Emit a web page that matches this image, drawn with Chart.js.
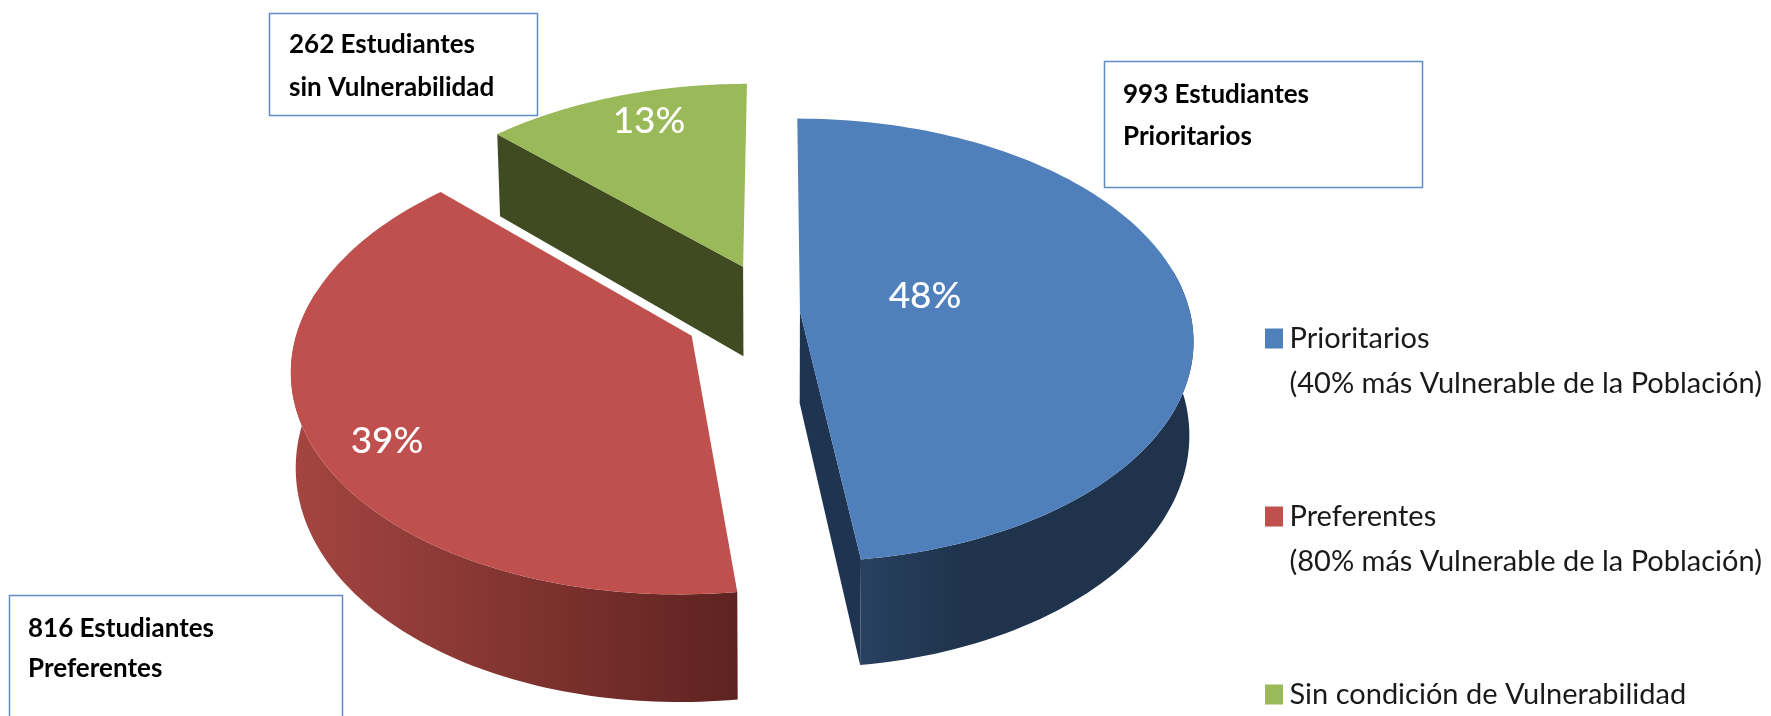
<!DOCTYPE html>
<html lang="es">
<head>
<meta charset="utf-8">
<title>Estudiantes por condición de vulnerabilidad</title>
<script src="https://cdn.jsdelivr.net/npm/chart.js@4"></script>
<style>
    html, body { margin: 0; padding: 0; background: #fff; }
    #chart-wrap { width: 1771px; height: 716px; overflow: hidden; }
</style>
</head>
<body>
<div id="chart-wrap"><canvas id="vulnerabilidadChart" width="1771" height="716"></canvas></div>
<script>
const categories = [
    ['Prioritarios', '(40% más Vulnerable de la Población)'],
    ['Preferentes', '(80% más Vulnerable de la Población)'],
    'Sin condición de Vulnerabilidad',
];
const students = [993, 816, 262];
const percentLabels = ['48%', '39%', '13%'];
const boxLines = [
    ['993 Estudiantes', 'Prioritarios'],
    ['816 Estudiantes', 'Preferentes'],
    ['262 Estudiantes', 'sin Vulnerabilidad'],
];

const FONT = 'Lato, Carlito, "Open Sans", sans-serif';
const topColors = ['#4f80bc', '#bf504d', '#9ab958'];
const explode = [23, 94, 90];
const drawOrder = [2, 0, 1];
const cutFace = ['end', null, 'start'];
const cutColors = ['#1e3450', null, '#404b22'];
const rimStops = [
    [[0, '#28415f'], [0.3, '#1f334d'], [1, '#1f334d']],
    [[0, '#a54541'], [1, '#5e2320']],
    [[0, '#404b22'], [1, '#404b22']],
];
const boxRects = [
    { x: 1104.5, y: 61.5, w: 318, h: 126, textX: 1123, lineY: [95, 137] },
    { x: 9.5, y: 595.5, w: 333, h: 140, textX: 28, lineY: [629, 669] },
    { x: 269.5, y: 13.5, w: 268, h: 102, textX: 289, lineY: [45, 88] },
];
const percentPos = [{ x: 925, y: 296 }, { x: 387, y: 441 }, { x: 649, y: 121 }];
const legendPos = { x: 1273, y: 324 };

// tilted disc: perspective about the pie centre, z runs from top face (0) to underside (1)
const view = { squash: 0.559, tilt: 0.131, depth: 92, taper: 0.01 };

function project(el, u, v, z) {
    const R = el.outerRadius;
    const f = 1 / (1 + view.tilt * v);
    return {
        x: el.x + R * u * f * (1 - view.taper * z),
        y: el.y - R * view.squash * v * f + view.depth * z * f,
    };
}

function wedgeGeometry(el) {
    const mid = (el.startAngle + el.endAngle) / 2;
    const off = el.options.offset / el.outerRadius;
    const apexU = off * Math.cos(mid);
    const apexV = -off * Math.sin(mid);
    return {
        apex: (z) => project(el, apexU, apexV, z),
        rim: (a, z) => project(el, apexU + Math.cos(a), apexV - Math.sin(a), z),
    };
}

function tracePath(ctx, pts) {
    ctx.beginPath();
    pts.forEach((p, i) => { if (i === 0) ctx.moveTo(p.x, p.y); else ctx.lineTo(p.x, p.y); });
    ctx.closePath();
}

function drawWedge(ctx, el, i) {
    const geo = wedgeGeometry(el);
    const steps = 120;
    const angles = [];
    for (let s = 0; s <= steps; s++) angles.push(el.startAngle + (el.endAngle - el.startAngle) * s / steps);

    if (cutFace[i]) {
        const a = cutFace[i] === 'end' ? el.endAngle : el.startAngle;
        tracePath(ctx, [geo.apex(0), geo.rim(a, 0), geo.rim(a, 1), geo.apex(1)]);
        ctx.fillStyle = cutColors[i];
        ctx.fill();
    }

    // only the front of the rim shows, the rest sits under the top face
    const front = angles.filter((a) => Math.sin(a) >= -0.2);
    if (front.length > 1) {
        const pts = front.map((a) => geo.rim(a, 0)).concat(front.slice().reverse().map((a) => geo.rim(a, 1)));
        const xs = pts.map((p) => p.x);
        const grad = ctx.createLinearGradient(Math.min(...xs), 0, Math.max(...xs), 0);
        rimStops[i].forEach(([stop, color]) => grad.addColorStop(stop, color));
        tracePath(ctx, pts);
        ctx.fillStyle = grad;
        ctx.fill();
    }

    tracePath(ctx, [geo.apex(0)].concat(angles.map((a) => geo.rim(a, 0))));
    ctx.fillStyle = topColors[i];
    ctx.fill();
}

const pie3d = {
    id: 'pie3d',
    afterLayout(chart) {
        // legend is placed by hand, its padding only sets the gap between entries
        const pad = chart.options.plugins.legend.labels.padding;
        chart.legend.left = legendPos.x - pad;
        chart.legend.top = legendPos.y - pad;
        chart.legend.right = chart.width;
        chart.legend.bottom = chart.height + 2 * pad;
    },
    beforeDatasetDraw(chart, args) {
        const ctx = chart.ctx;
        const arcs = args.meta.data;
        ctx.save();
        drawOrder.forEach((i) => drawWedge(ctx, arcs[i], i));
        ctx.restore();
        return false;
    },
    afterDraw(chart) {
        const ctx = chart.ctx;
        ctx.save();
        ctx.textBaseline = 'middle';
        ctx.textAlign = 'center';
        ctx.fillStyle = '#fff';
        ctx.font = `500 37px ${FONT}`;
        percentLabels.forEach((label, i) => ctx.fillText(label, percentPos[i].x, percentPos[i].y));

        ctx.textAlign = 'left';
        boxRects.forEach((box, i) => {
            ctx.fillStyle = '#fff';
            ctx.fillRect(box.x, box.y, box.w, box.h);
            ctx.strokeStyle = '#5f8dc6';
            ctx.lineWidth = 1.5;
            ctx.strokeRect(box.x, box.y, box.w, box.h);
            ctx.fillStyle = '#000';
            ctx.font = `bold 26px ${FONT}`;
            boxLines[i].forEach((line, k) => ctx.fillText(line, box.textX, box.lineY[k]));
        });
        ctx.restore();
    },
};

new Chart(document.getElementById('vulnerabilidadChart').getContext('2d'), {
    type: 'pie',
    data: {
        labels: categories,
        datasets: [{
            data: students,
            backgroundColor: topColors,
            borderColor: topColors,
            borderWidth: 16,
            offset: explode,
            radius: 390,
        }],
    },
    options: {
        responsive: false,
        animation: false,
        layout: { padding: { right: 217, bottom: 92 } },
        plugins: {
            tooltip: { enabled: false },
            legend: {
                position: 'chartArea',
                align: 'start',
                labels: {
                    boxWidth: 2,
                    boxHeight: 4,
                    padding: 88,
                    color: '#1a1a1a',
                    font: { family: FONT, size: 29, lineHeight: 45 / 29 },
                },
            },
        },
    },
    plugins: [pie3d],
});
</script>
</body>
</html>
